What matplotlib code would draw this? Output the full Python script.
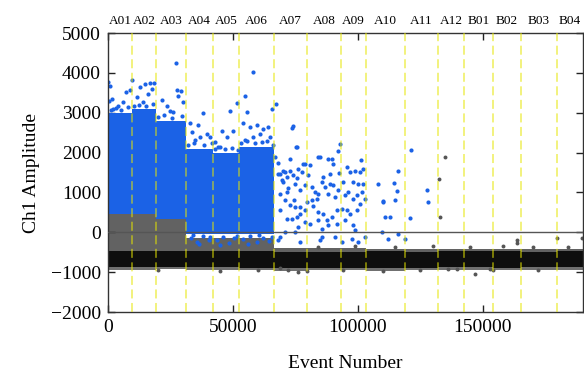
import matplotlib
matplotlib.use("Agg")
import matplotlib.pyplot as plt
import numpy as np

# ---------------- data ----------------
wells = ["A01", "A02", "A03", "A04", "A05", "A06", "A07", "A08",
         "A09", "A10", "A11", "A12", "B01", "B02", "B03", "B04"]
well_edges = [0, 9600, 19200, 31200, 42000, 52400, 66400, 79600, 93200,
              103200, 118800, 132000, 142400, 154000, 165200, 179600, 190000]

# dense positive (blue) droplet cluster per well (nan = none)
pos_top = [3000, 3100, 2800, 2100, 2000, 2150] + [np.nan] * 10
pos_bottom = [450, 450, 330, -50, -50, -50] + [np.nan] * 10
# intermediate (grey) droplets per well
gray_top = [450, 450, 330, -150, -150, -150, -400, -400, -400, -420,
            -420, -420, -420, -420, -420, -420]
# dense negative (black) droplet band per well
neg_top = [-470, -470, -470, -480, -480, -480, -490, -490, -490, -480,
           -490, -480, -470, -480, -490, -480]
neg_bottom = [-880, -880, -870, -880, -880, -890, -900, -890, -890, -900,
              -890, -880, -880, -890, -880, -880]

# sparse positive droplets (event number, amplitude)
blue_x = [130, 800, 400, 1500, 7200, 8800, 6100, 4100, 2100,
          9700, 12800, 14800, 16800, 18400, 11500, 16100, 17500, 13900,
          27100, 27500, 29100, 21500, 24800, 26100, 28100, 23500, 30100,
          37900, 32800, 36100, 33500, 36800, 39500, 40800, 34800,
          51500, 48800, 45500, 47500, 50100, 42800, 44100,
          57900, 54800, 55500, 65500, 53900, 56800, 59500, 62100, 64100,
          60800, 58100, 64800, 54800,
          33000, 35500, 38000, 40500, 36500, 34000, 41000,
          43500, 46000, 48500, 50500, 45000, 51500,
          54000, 57000, 59500, 62000, 64500, 56000, 60500, 65500,
          67200, 73500, 75500, 72800, 70100, 68100, 71500, 78100, 84800,
          88100, 90100, 88800, 92100,
          73900, 75100, 68000, 84000, 89500, 92800, 101200,
          68800, 70800, 72800, 74100, 76100, 77500, 78800, 80800, 80100,
          75500, 70100, 72100, 74800, 76800, 78800, 81500, 82800, 84100,
          83500, 85500, 86800, 88800, 90100, 88100, 90800, 92100, 94100,
          95500, 96800, 98800, 100800, 102100, 98100, 100100, 102100,
          94800, 98100, 99500, 101500, 102800, 68800, 70800, 72800, 74800,
          76800, 79500, 81500, 78800, 75500, 71500, 73500, 68800, 84100,
          86100, 87500, 89500, 91500, 93500, 95500, 96800, 99500, 98100,
          98800, 94800, 91500, 88100, 85500, 84100, 80800, 76100, 74800,
          70800, 68800, 85500, 84800, 90800, 93500, 97500, 100100, 102800,
          68100, 76800,
          121100, 116100, 114400, 108100, 110100, 114800, 110800, 112800,
          120800, 116100, 118800, 112100, 109500, 115500, 109900,
          127500, 127900,
          # extra droplets along the edges of the dense clusters
          1000, 3000, 5000, 8000, 10500, 12500, 15000, 18000,
          20000, 22500, 25500, 29500, 31800, 34500, 38500, 41500,
          42800, 44800, 47000, 49500, 52000, 53200, 55800, 58800,
          61500, 63500, 66000, 67000, 69500, 71800, 74500, 77000,
          79000, 82000, 86000, 92500, 96000, 101000]
blue_y = [3770, 3680, 3300, 3350, 3520, 3560, 3260, 3180, 3100,
          3830, 3640, 3730, 3750, 3740, 3390, 3480, 3600, 3260,
          4250, 3570, 3540, 3310, 3050, 3010, 3430, 3180, 3260,
          3000, 2730, 2680, 2510, 2390, 2470, 2400, 2310,
          3250, 3050, 2550, 2390, 2550, 2270, 2140,
          4020, 3420, 3010, 3100, 2730, 2650, 2690, 2600, 2650,
          2470, 2390, 2390, 2310,
          -150, -250, -100, -200, -300, -80, -120,
          -200, -120, -280, -150, -320, -90,
          -180, -100, -250, -150, -220, -300, -80, -120,
          3230, 2620, 2130, 1830, 1540, 1460, 1390, 1720, 1890,
          1850, 1720, 1460, 2050,
          2660, 2140, 1740, 1890, 1830, 2220, 1820,
          1470, 1510, 1550, 1430, 1600, 1510, 1720, 1680, 1430,
          1350, 1260, 1100, 1220, 1050, 1180, 1140, 1010, 970,
          840, 1260, 1140, 1220, 1180, 970, 880, 1050, 1260,
          1640, 1510, 1550, 1510, 1600, 1260, 1220, 1220,
          930, 840, 930, 1010, 840, 970, 820, 680, 640,
          640, 760, 800, 550, 380, 340, 340, 550, 510,
          470, 300, 380, 550, 590, 550, 470, 550, 175,
          50, 300, 220, 175, 90, 300, 220, 130, 10,
          10, -120, -120, -200, -120, -240, -160, -240, -120,
          -200, -240,
          2070, 1540, 1240, 1200, 780, 820, 380, 380,
          370, -50, -160, -180, 0, 1030, 760,
          1050, 760,
          3080, 3120, 3060, 3150, 3180, 3200, 3170, 3220,
          2900, 2950, 2880, 2920, 2200, 2250, 2180, 2230,
          2100, 2150, 2080, 2120, 2060, 2250, 2280, 2230,
          2260, 2300, 2200, 1900, 1300, 1000, 800, 450,
          250, 650, 1400, 1500, 1000, 700]

# sparse grey droplets (event number, amplitude)
grey_x = [134800, 132800, 132500, 69000, 72000, 76000, 79600, 94000,
          136000, 139600, 147000, 152800, 154000, 163500, 163800,
          179500, 189500, 20000, 45000, 60000, 110000, 125000, 172000,
          84000, 99000, 115000, 130000, 145000, 158000, 170000, 184000]
grey_y = [1900, 380, 1330, -900, -950, -1000, -980, -950,
          -930, -930, -1050, -930, -950, -200, -280,
          -150, -150, -950, -960, -940, -960, -940, -950,
          -360, -350, -370, -340, -360, -350, -370, -360]

# ---------------- figure ----------------
fig = plt.figure(figsize=(5.84, 3.71), dpi=100)
ax = fig.add_axes([0.185, 0.159, 0.813, 0.752])
serif = ['Liberation Serif', 'DejaVu Serif']
plt.rcParams['font.family'] = serif

blue = "#1b62e6"
for i in range(len(wells)):
    x0, x1 = well_edges[i], well_edges[i + 1]
    # fuzzy edges of the negative band
    ax.fill_between([x0, x1], neg_bottom[i] - 60, neg_top[i] + 60,
                    color="#707070", lw=0, zorder=1)
    ax.fill_between([x0, x1], gray_top[i], neg_top[i],
                    color="#626262", lw=0, zorder=1)
    ax.fill_between([x0, x1], neg_bottom[i], neg_top[i],
                    color="#0e0e0e", lw=0, zorder=1.5)
    if not np.isnan(pos_top[i]):
        ax.fill_between([x0, x1], pos_bottom[i], pos_top[i],
                        color=blue, lw=0, zorder=1.6)

ax.scatter(blue_x, blue_y, s=9, color=blue, lw=0, zorder=2)
ax.scatter(grey_x, grey_y, s=8, color="#555555", lw=0, zorder=2)

# threshold line
ax.axhline(0, color="#555555", lw=1.0, zorder=4)

# well boundaries
for e in well_edges[1:-1]:
    ax.axvline(e, color="#e6e600", alpha=0.55, lw=1.3,
               ls=(0, (5, 2.5)), zorder=3)

# well labels
for i, w in enumerate(wells):
    xc = 0.5 * (well_edges[i] + well_edges[i + 1])
    ax.annotate(w, xy=(xc, 1.0), xycoords=("data", "axes fraction"),
                xytext=(0, 4), textcoords="offset points",
                ha="center", va="bottom", fontsize=9.5, family=serif)

ax.set_xlim(0, 190000)
ax.set_ylim(-2000, 5000)
ax.set_xticks([0, 50000, 100000, 150000])
ax.set_yticks(range(-2000, 5001, 1000))
ax.tick_params(direction="in", length=5, width=1, top=True, right=True,
               labelsize=14, pad=5, colors="#222222", labelcolor="black")
for lab in ax.get_xticklabels() + ax.get_yticklabels():
    lab.set_family(serif)
for s in ax.spines.values():
    s.set_color("#333333")
    s.set_linewidth(1.0)

ax.set_xlabel("Event Number", fontsize=14, labelpad=14, family=serif)
ax.set_ylabel("Ch1 Amplitude", fontsize=14, labelpad=8, family=serif)

fig.savefig("out.png", dpi=100)
